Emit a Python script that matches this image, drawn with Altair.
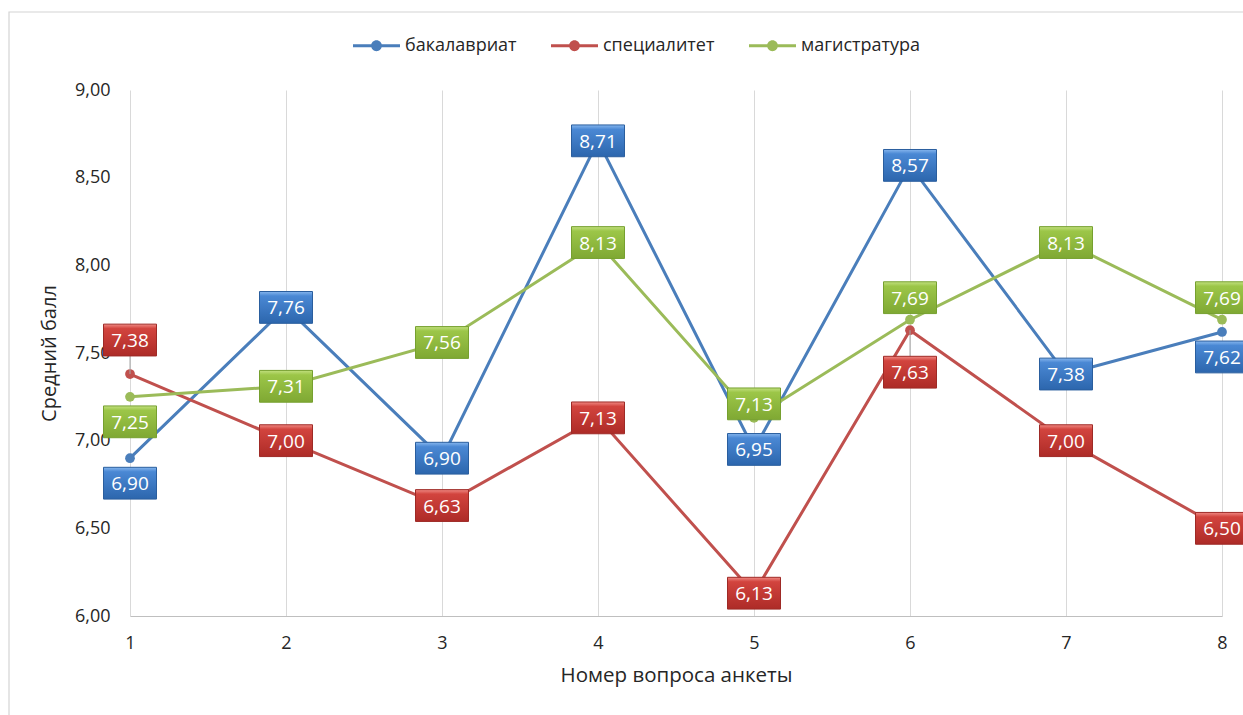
import altair as alt
import pandas as pd

# Survey results: mean score per questionnaire item, by level of study
questions = [1, 2, 3, 4, 5, 6, 7, 8]
series_names = ["бакалавриат", "специалитет", "магистратура"]
bachelor = [6.90, 7.76, 6.90, 8.71, 6.95, 8.57, 7.38, 7.62]
specialist = [7.38, 7.00, 6.63, 7.13, 6.13, 7.63, 7.00, 6.50]
master = [7.25, 7.31, 7.56, 8.13, 7.13, 7.69, 8.13, 7.69]

# where each value label sits relative to its marker
bachelor_place = ["below", "center", "center", "center", "center", "center", "center", "below"]
specialist_place = ["high", "center", "center", "center", "center", "low", "center", "center"]
master_place = ["below", "center", "center", "center", "raised", "above", "center", "above"]

y_ticks = [6.0, 6.5, 7.0, 7.5, 8.0, 8.5, 9.0]

FONT = "Open Sans"
TEXT = "#262626"
line_colors = ["#4a7ebb", "#c0504d", "#9bbb59"]
box_stops = [
    ("#86b6ee", "#4a88d4", "#2c66ad", "#2a5e9e"),
    ("#f08a84", "#d2443e", "#ad2b27", "#9e2a26"),
    ("#c2e07f", "#9cc648", "#7fa833", "#76a02f"),
]
# vertical shift of a label box (px) and whether a leader line joins it to its marker
place_offset = {"center": 0, "above": -22, "high": -34, "raised": -14, "below": 25, "low": 42}
leader_places = {"high": -18, "low": 26}

rows = []
for name, vals, places in zip(series_names,
                              [bachelor, specialist, master],
                              [bachelor_place, specialist_place, master_place]):
    for q, v, p in zip(questions, vals, places):
        rows.append({"series": name, "q": q, "value": v, "place": p})
df = pd.DataFrame(rows)

W, H = 1092, 526

x_enc = alt.X("q:Q",
              scale=alt.Scale(domain=[1, 8], nice=False, zero=False),
              axis=alt.Axis(values=questions, format="d", grid=True, gridColor="#d9d9d9",
                            gridWidth=1, domain=True, domainColor="#bfbfbf", domainWidth=1.2,
                            ticks=False, labelFlush=False, labelPadding=18, labelFontSize=18,
                            labelFont=FONT, labelColor=TEXT, title="Номер вопроса анкеты",
                            titleFont=FONT, titleFontSize=20.5, titleFontWeight="normal",
                            titleColor=TEXT, titlePadding=13))
y_enc = alt.Y("value:Q",
              scale=alt.Scale(domain=[6, 9], nice=False, zero=False),
              axis=alt.Axis(values=y_ticks, grid=False, domain=False, ticks=False,
                            labelExpr="replace(format(datum.value, '.2f'), '.', ',')",
                            labelPadding=20, labelFontSize=18, labelFont=FONT, labelColor=TEXT,
                            title="Средний балл", titleFont=FONT, titleFontSize=20,
                            titleFontWeight="normal", titleColor=TEXT, titlePadding=15))

base = alt.Chart(df)

# outer chart frame
frame = alt.Chart(pd.DataFrame({"f": [0]})).mark_rect(
    fill="transparent", stroke="#d4d4d4", strokeWidth=1.2
).encode(x=alt.value(-121), x2=alt.value(1400), y=alt.value(-78), y2=alt.value(900))

layers = [frame]

legend_symbol = ("M-1,-0.065L1,-0.065L1,0.065L-1,0.065Z "
                 "M0.23,0A0.23,0.23 0 1,1 -0.23,0A0.23,0.23 0 1,1 0.23,0Z")

color_scale = alt.Scale(domain=series_names, range=line_colors)

for i, name in enumerate(series_names):
    sub = base.transform_filter(alt.datum.series == name)
    layers.append(sub.mark_line(strokeWidth=3, color=line_colors[i]).encode(x=x_enc, y=y_enc))
    layers.append(sub.mark_point(filled=True, size=95, opacity=1, strokeWidth=0).encode(
        x="q:Q", y="value:Q",
        color=alt.Color("series:N", scale=color_scale, sort=series_names,
                        legend=alt.Legend(title=None, orient="none", direction="horizontal",
                                          legendX=223, legendY=-68, symbolType=legend_symbol,
                                          symbolSize=2209, symbolStrokeWidth=0,
                                          labelFont=FONT, labelFontSize=18, labelColor=TEXT,
                                          labelOffset=5, columnPadding=34))))

# thin leader lines for labels pulled away from their markers
for place, end in leader_places.items():
    layers.append(base.transform_filter(alt.datum.place == place).mark_rule(
        color="#a6a6a6", strokeWidth=1, y2Offset=end
    ).encode(x="q:Q", y="value:Q", y2="value:Q"))

# value labels: bevelled boxes with white text
box_shape = "M-1,-0.6L1,-0.6L1,0.6L-1,0.6Z"
for i, name in enumerate(series_names):
    top, mid, bottom, edge = box_stops[i]
    grad = alt.LinearGradient(gradient="linear", x1=0, y1=0, x2=0, y2=1,
                              stops=[alt.GradientStop(offset=0, color=top),
                                     alt.GradientStop(offset=0.14, color=mid),
                                     alt.GradientStop(offset=1, color=bottom)])
    for place, dy in place_offset.items():
        sub = base.transform_filter(
            (alt.datum.series == name) & (alt.datum.place == place)
        ).transform_calculate(
            label="replace(format(datum.value, '.2f'), '.', ',')"
        )
        layers.append(sub.mark_point(shape=box_shape, size=2809, filled=True, opacity=1,
                                     fill=grad, stroke=edge, strokeWidth=1, yOffset=dy)
                      .encode(x="q:Q", y="value:Q"))
        layers.append(sub.mark_text(color="white", font=FONT, fontSize=19, baseline="middle",
                                    align="center", yOffset=dy + 1)
                      .encode(x="q:Q", y="value:Q", text="label:N"))

chart = alt.layer(*layers).properties(
    width=W, height=H,
    autosize=alt.AutoSizeParams(type="none"),
    padding={"left": 130, "top": 90, "right": 21, "bottom": 99},
    background="white",
).configure_view(stroke=None)

chart.save("out.html", embed_options={"renderer": "svg", "actions": False})
